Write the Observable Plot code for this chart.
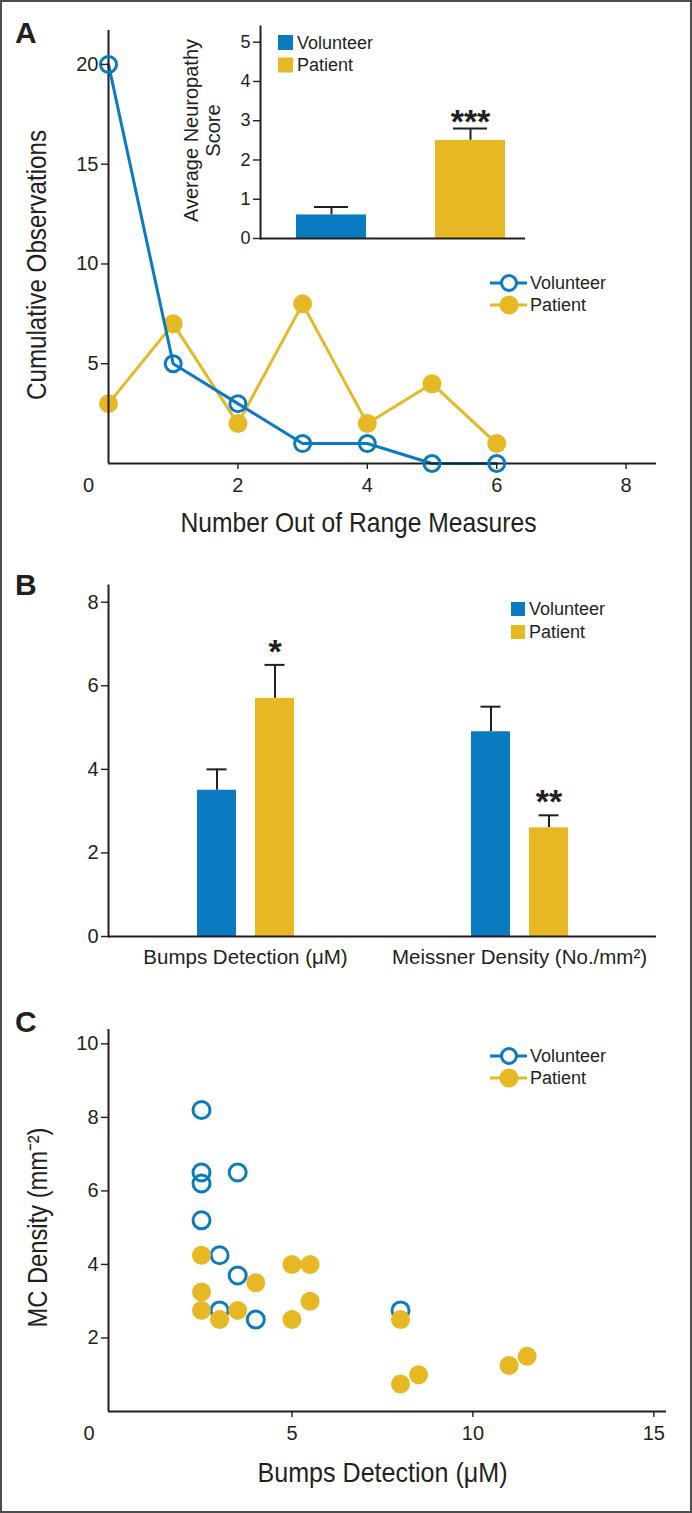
<!DOCTYPE html>
<html><head><meta charset="utf-8">
<script src="https://cdn.jsdelivr.net/npm/d3@7"></script>
<script src="https://cdn.jsdelivr.net/npm/@observablehq/plot@0.6"></script>
<style>
body{margin:0;background:#fff;}
#page{position:relative;width:692px;height:1513px;overflow:hidden;background:#fff;}
#page > svg, #page > figure{position:absolute;margin:0;}
#frame{position:absolute;left:0;top:0;width:692px;height:1513px;box-sizing:border-box;border:2px solid #4d4d4d;pointer-events:none;}
</style></head><body>
<div id="page"></div>
<script>
// ---------- data ----------
const groups = ["Volunteer", "Patient"];
const groupColors = ["#0a7bc1", "#e6b823"];
// Panel A: cumulative observations vs number of out-of-range measures
const outOfRange = [0, 1, 2, 3, 4, 5, 6];
const volunteerObs = [20, 5, 3, 1, 1, 0, 0];
const patientObs = [3, 7, 2, 8, 2, 4, 1];
const obsTicks = [5, 10, 15, 20];
const rangeTicks = [2, 4, 6, 8];
// Panel A inset: average neuropathy score
const neuropathyMean = [0.6, 2.5];
const neuropathyErr = [0.2, 0.3];
const neuropathySig = ["", "***"];
const neuropathyTicks = [0, 1, 2, 3, 4, 5];
// Panel B
const measures = ["Bumps Detection (μM)", "Meissner Density (No./mm²)"];
const volunteerMeasure = [3.5, 4.9];
const volunteerMeasureErr = [0.5, 0.6];
const patientMeasure = [5.7, 2.6];
const patientMeasureErr = [0.8, 0.3];
const measureSig = ["*", "**"];
const measureTicks = [0, 2, 4, 6, 8];
// Panel C: MC density vs bumps detection
const volunteerBumps = [2.5, 2.5, 2.5, 3.5, 2.5, 3.0, 3.5, 3.0, 4.0, 8.0];
const volunteerMC    = [8.2, 6.5, 6.2, 6.5, 5.2, 4.25, 3.7, 2.75, 2.5, 2.75];
const patientBumps = [2.5, 2.5, 2.5, 3.0, 3.5, 4.0, 5.0, 5.5, 5.5, 5.0, 8.0, 8.0, 8.5, 11.0, 11.5];
const patientMC    = [4.25, 3.25, 2.75, 2.5, 2.75, 3.5, 4.0, 4.0, 3.0, 2.5, 2.5, 0.75, 1.0, 1.25, 1.5];
const mcTicks = [2, 4, 6, 8, 10];
const bumpsTicks = [5, 10, 15];

// ---------- styles ----------
const BLUE = groupColors[0], YEL = groupColors[1], INK = "#231f20";
const FONT = '"Liberation Sans", Arial, Helvetica, sans-serif';
const baseStyle = {background: "transparent", fontFamily: FONT, fontSize: "20px", color: INK};
const page = document.getElementById("page");
function place(el, left, top) { el.style.left = left + "px"; el.style.top = top + "px"; page.appendChild(el); }
// condensed axis titles: same text, squeezed to the reference width
function fitText(svg, str, len) {
  d3.select(svg).selectAll("text").filter(function () { return this.textContent === str; })
    .attr("textLength", len).attr("lengthAdjust", "spacingAndGlyphs");
}
const titleOpts = {fontSize: 28, fill: INK, textAnchor: "middle", lineAnchor: "middle"};

// ---------- Panel A ----------
const aVol = outOfRange.map((x, i) => ({x, y: volunteerObs[i]}));
const aPat = outOfRange.map((x, i) => ({x, y: patientObs[i]}));
const plotA = Plot.plot({
  width: 692, height: 560, marginLeft: 108, marginRight: 36, marginTop: 30, marginBottom: 97,
  style: baseStyle,
  x: {domain: [0, 8.47]},
  y: {domain: [0, 21.7]},
  marks: [
    Plot.line(aPat, {x: "x", y: "y", stroke: YEL, strokeWidth: 3}),
    Plot.dot(aPat, {x: "x", y: "y", r: 9.5, fill: YEL}),
    Plot.line(aVol, {x: "x", y: "y", stroke: BLUE, strokeWidth: 3}),
    Plot.ruleX([0], {stroke: INK, strokeWidth: 2}),
    Plot.ruleY([0], {stroke: INK, strokeWidth: 2}),
    Plot.dot(aVol, {x: "x", y: "y", r: 8, fill: "none", stroke: BLUE, strokeWidth: 3}),
    Plot.axisY({ticks: obsTicks, tickSize: 7, tickPadding: 3, label: null, fontSize: 20, strokeWidth: 1.4}),
    Plot.axisX({ticks: rangeTicks, tickSize: 6, tickPadding: 8, label: null, fontSize: 20, strokeWidth: 1.4}),
    Plot.axisX({ticks: [0], tickSize: 0, tickPadding: 14, dx: -20, label: null, fontSize: 20}),
    Plot.text(["Cumulative Observations"], {...titleOpts, frameAnchor: "left", rotate: -90, dx: -71, dy: 18}),
    Plot.text(["Number Out of Range Measures"], {...titleOpts, frameAnchor: "bottom", dx: -24, dy: 60})
  ]
});
fitText(plotA, "Cumulative Observations", 270);
fitText(plotA, "Number Out of Range Measures", 356);
place(plotA, 0, 0);

// ---------- Panel A inset ----------
const insetData = groups.map((g, i) => ({g, v: neuropathyMean[i], e: neuropathyErr[i], sig: neuropathySig[i]}));
const plotInset = Plot.plot({
  width: 400, height: 250, marginLeft: 110, marginRight: 25, marginTop: 26, marginBottom: 12,
  style: baseStyle,
  x: {domain: groups, paddingInner: 0.496, paddingOuter: 0.201, align: 0.64, axis: null},
  y: {domain: [0, 5.4]},
  color: {domain: groups, range: groupColors},
  marks: [
    Plot.ruleX(insetData, {x: "g", y1: "v", y2: d => d.v + d.e, stroke: INK, strokeWidth: 2}),
    Plot.tickY(insetData, {x: "g", y: d => d.v + d.e, insetLeft: 18, insetRight: 18, stroke: INK, strokeWidth: 2}),
    Plot.barY(insetData, {x: "g", y: "v", fill: "g"}),
    Plot.text(insetData, {x: "g", y: d => d.v + d.e, text: "sig", dy: -6, fontSize: 34, fontWeight: "bold", fill: INK}),
    Plot.frame({anchor: "left", stroke: INK, strokeWidth: 2}),
    Plot.ruleY([0], {stroke: INK, strokeWidth: 2}),
    Plot.axisY({ticks: neuropathyTicks, tickFormat: d => String(d), tickSize: 7, tickPadding: 3, label: null, fontSize: 18, strokeWidth: 1.4}),
    Plot.text(["Average Neuropathy\nScore"], {frameAnchor: "left", rotate: -90, dx: -59, dy: -2, fontSize: 20, lineHeight: 1.1, fill: INK, textAnchor: "middle", lineAnchor: "middle"})
  ]
});
place(plotInset, 150, 0);

// ---------- Panel B ----------
const bData = measures.flatMap((m, i) => [
  {m, g: "Volunteer", v: volunteerMeasure[i], e: volunteerMeasureErr[i], sig: ""},
  {m, g: "Patient", v: patientMeasure[i], e: patientMeasureErr[i], sig: measureSig[i]}
]);
const plotB = Plot.plot({
  width: 692, height: 430, marginLeft: 108, marginRight: 36, marginTop: 25, marginBottom: 54,
  style: baseStyle,
  fx: {domain: measures, padding: 0, axis: null, label: null},
  x: {domain: groups, paddingInner: 0.336, paddingOuter: 1.53, axis: null},
  y: {domain: [0, 8.4]},
  color: {domain: groups, range: groupColors},
  marks: [
    Plot.ruleX(bData, {fx: "m", x: "g", y1: "v", y2: d => d.v + d.e, stroke: INK, strokeWidth: 2}),
    Plot.tickY(bData, {fx: "m", x: "g", y: d => d.v + d.e, insetLeft: 9.5, insetRight: 9.5, stroke: INK, strokeWidth: 2}),
    Plot.barY(bData, {fx: "m", x: "g", y: "v", fill: "g"}),
    Plot.text(bData, {fx: "m", x: "g", y: d => d.v + d.e, text: "sig", dy: -13, fontSize: 34, fontWeight: "bold", fill: INK}),
    Plot.ruleY([0], {stroke: INK, strokeWidth: 2}),
    Plot.frame({anchor: "left", facetAnchor: "left", stroke: INK, strokeWidth: 2}),
    Plot.axisY({ticks: measureTicks, tickSize: 7, tickPadding: 3, label: null, fontSize: 20, strokeWidth: 1.4}),
    Plot.axisFx({anchor: "bottom", tickSize: 0, tickPadding: 13, label: null, fontSize: 20.5})
  ]
});
place(plotB, 0, 560);

// ---------- Panel C ----------
const cVol = volunteerBumps.map((x, i) => ({x, y: volunteerMC[i]}));
const cPat = patientBumps.map((x, i) => ({x, y: patientMC[i]}));
const plotC = Plot.plot({
  width: 692, height: 523, marginLeft: 108, marginRight: 26, marginTop: 39, marginBottom: 102,
  style: baseStyle,
  x: {domain: [-0.07, 15.35]},
  y: {domain: [0, 10.39]},
  marks: [
    Plot.dot(cVol, {x: "x", y: "y", r: 8.5, fill: "none", stroke: BLUE, strokeWidth: 3}),
    Plot.dot(cPat, {x: "x", y: "y", r: 9.5, fill: YEL}),
    Plot.ruleX([-0.07], {stroke: INK, strokeWidth: 2}),
    Plot.ruleY([0], {stroke: INK, strokeWidth: 2}),
    Plot.axisY({ticks: mcTicks, tickSize: 7, tickPadding: 3, label: null, fontSize: 20, strokeWidth: 1.4}),
    Plot.axisX({ticks: bumpsTicks, tickSize: 6, tickPadding: 8, label: null, fontSize: 20, strokeWidth: 1.4}),
    Plot.axisX({ticks: [0], tickSize: 0, tickPadding: 14, dx: -22, label: null, fontSize: 20}),
    Plot.text(["MC Density (mm⁻²)"], {...titleOpts, frameAnchor: "left", rotate: -90, dx: -70, dy: 7}),
    Plot.text(["Bumps Detection (μM)"], {...titleOpts, frameAnchor: "bottom", dx: -5, dy: 62})
  ]
});
fitText(plotC, "MC Density (mm⁻²)", 200);
fitText(plotC, "Bumps Detection (μM)", 250);
place(plotC, 0, 990);

// ---------- overlay: panel letters and legends ----------
const ov = d3.create("svg").attr("width", 692).attr("height", 1513)
  .style("position", "absolute").style("left", "0px").style("top", "0px")
  .attr("font-family", FONT).attr("fill", INK);
[["A", 43], ["B", 595], ["C", 1032]].forEach(([t, y]) => {
  ov.append("text").attr("x", 15).attr("y", y).attr("font-size", 30).attr("font-weight", "bold").text(t);
});
function lineLegend(x0, ys) {
  groups.forEach((g, i) => {
    const y = ys[i];
    ov.append("line").attr("x1", x0).attr("x2", x0 + 37).attr("y1", y).attr("y2", y)
      .attr("stroke", groupColors[i]).attr("stroke-width", 3);
    if (i === 0) ov.append("circle").attr("cx", x0 + 19).attr("cy", y).attr("r", 7.5)
      .attr("fill", "white").attr("stroke", BLUE).attr("stroke-width", 3);
    else ov.append("circle").attr("cx", x0 + 19).attr("cy", y).attr("r", 9.5).attr("fill", YEL);
    ov.append("text").attr("x", x0 + 40).attr("y", y).attr("dy", "0.35em").attr("font-size", 18).text(g);
  });
}
function swatchLegend(x0, ys, size) {
  groups.forEach((g, i) => {
    ov.append("rect").attr("x", x0).attr("y", ys[i] - size / 2).attr("width", size).attr("height", size).attr("fill", groupColors[i]);
    ov.append("text").attr("x", x0 + size + 4).attr("y", ys[i]).attr("dy", "0.35em").attr("font-size", 18).text(g);
  });
}
lineLegend(490, [283, 305]);
swatchLegend(278, [42.5, 65], 15);
swatchLegend(511, [609, 632], 14);
lineLegend(490, [1056, 1078]);
page.appendChild(ov.node());

const frame = document.createElement("div");
frame.id = "frame";
page.appendChild(frame);
</script>
</body></html>
